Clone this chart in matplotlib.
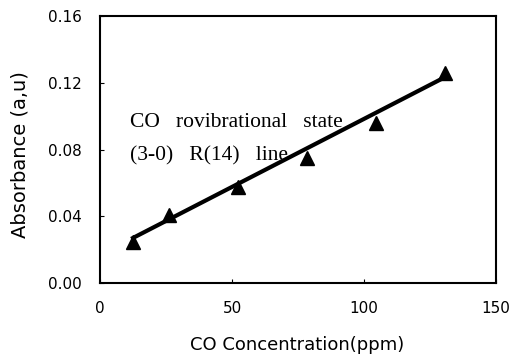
import matplotlib.pyplot as plt
import numpy as np

# measured points (CO concentration vs absorbance)
conc = [12.5, 26, 52.3, 78.4, 104.5, 130.7]
absorb = [0.0246, 0.0407, 0.0575, 0.0749, 0.0959, 0.1258]

# linear fit line, endpoints
fit_x = [12.5, 130]
fit_y = [0.027, 0.1228]

xticks = [0, 50, 100, 150]
yticks = [0.00, 0.04, 0.08, 0.12, 0.16]

plt.rcParams['font.family'] = 'DejaVu Sans'

fig = plt.figure(figsize=(5.13, 3.54), dpi=100)
ax = fig.add_axes([100 / 513, 1 - 283 / 354, 396 / 513, 267 / 354])

ax.plot(fit_x, fit_y, '-k', linewidth=3)
ax.plot(conc, absorb, linestyle='none', marker='^', color='k', markersize=10)

ax.set_xlim(0, 150)
ax.set_ylim(0, 0.16)
ax.set_xticks(xticks)
ax.set_yticks(yticks)
ax.set_yticklabels(['%.2f' % v for v in yticks])
ax.tick_params(direction='in', length=3, labelsize=11)
ax.tick_params(axis='y', pad=13)
ax.tick_params(axis='x', pad=13)
for s in ax.spines.values():
    s.set_linewidth(1.5)

fig.text(297 / 513, 4 / 354, 'CO Concentration(ppm)', fontsize=13,
         ha='center', va='baseline')
fig.text(20 / 513, 1 - 155 / 354, 'Absorbance (a,u)', fontsize=14,
         rotation=90, ha='center', va='center')

ax.text(11.4, 0.0935, 'CO   rovibrational   state', family='Liberation Serif', fontsize=15.5)
ax.text(11.4, 0.0737, '(3-0)   R(14)   line', family='Liberation Serif', fontsize=15.5)

plt.savefig('out.png', dpi=100)
